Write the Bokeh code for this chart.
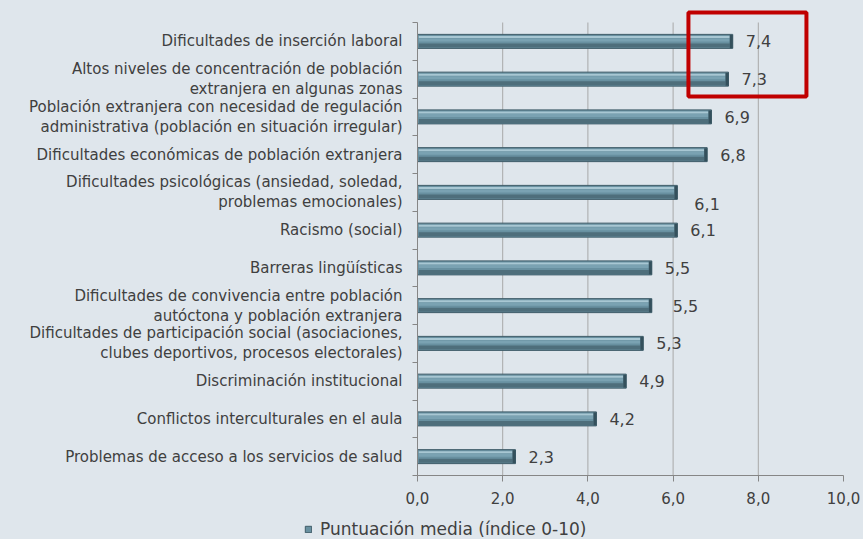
from bokeh.plotting import figure
from bokeh.models import (Range1d, FixedTicker, BoxAnnotation, Legend, LegendItem,
                          ColumnDataSource, GlobalInlineStyleSheet)
from bokeh.core.properties import value
from bokeh.embed import file_html
from bokeh.resources import INLINE

categories = [
    "Dificultades de inserción laboral",
    "Altos niveles de concentración de población\nextranjera en algunas zonas",
    "Población extranjera con necesidad de regulación\nadministrativa (población en situación irregular)",
    "Dificultades económicas de población extranjera",
    "Dificultades psicológicas (ansiedad, soledad,\nproblemas emocionales)",
    "Racismo (social)",
    "Barreras lingüísticas",
    "Dificultades de convivencia entre población\nautóctona y población extranjera",
    "Dificultades de participación social (asociaciones,\nclubes deportivos, procesos electorales)",
    "Discriminación institucional",
    "Conflictos interculturales en el aula",
    "Problemas de acceso a los servicios de salud",
]
scores = [7.4, 7.3, 6.9, 6.8, 6.1, 6.1, 5.5, 5.5, 5.3, 4.9, 4.2, 2.3]
x_ticks = [0, 2, 4, 6, 8, 10]
x_tick_labels = ["0,0", "2,0", "4,0", "6,0", "8,0", "10,0"]
grid_x = [2, 4, 6, 8]
series_name = "Puntuación media (índice 0-10)"

# label nudges (screen px) mimicking the original label placement
label_dx = [13, 13, 13, 13, 17, 13, 13, 21, 13, 13, 13, 13]
label_dy = [0, 0, 0, 0, 12, 0, 0, 0, 0, 0, 0, 0]

BG = "#dfe6ec"
FONT = "DejaVu Sans"
TXT = "#404040"
AX = "#868686"
n = len(categories)
ys = [n - 0.5 - i for i in range(n)]
W, H = 863, 539
X0, TOP, BOT = 417, 22, 475          # pixel positions of x=0, top and bottom of the bar area
py = 1 / ((BOT - TOP) / n)          # one pixel in y data units
px = 1 / 42.6                        # one pixel in x data units

src = ColumnDataSource(dict(
    y=ys, score=scores, cat=categories,
    lbl=[f"{v:.1f}".replace(".", ",") for v in scores],
    dx=label_dx, dy=label_dy,
    y_top=[y + 4.5 * py for y in ys],
    y_up=[y + 1.5 * py for y in ys],
    y_lo=[y - 4 * py for y in ys],
    cap=[s - 3 * px for s in scores],
))

p = figure(width=W, height=H,
           x_range=Range1d(-X0 * px, (W - X0) * px),
           y_range=Range1d(-(H - BOT) * py, n + TOP * py),
           output_backend="svg", toolbar_location=None,
           min_border_left=0, min_border_right=0, min_border_top=0, min_border_bottom=0)
p.background_fill_color = BG
p.border_fill_color = BG
p.outline_line_color = None
p.stylesheets = [GlobalInlineStyleSheet(css=f"body {{ background: {BG}; }}")]

# grid lines limited to the plotting band
p.segment(x0=grid_x, y0=[0] * len(grid_x), x1=grid_x, y1=[n] * len(grid_x),
          line_color="#a8a8a8", line_width=1)

main = p.hbar(y="y", left=0, right="score", height=14 * py, source=src,
              fill_color="#6890a0", line_color="#3f5c68", line_width=1)
p.hbar(y="y_up", left=0.03, right="cap", height=3 * py, source=src,
       fill_color="#7aa2b2", line_color=None)
p.hbar(y="y_top", left=0.03, right="cap", height=2 * py, source=src,
       fill_color="#a8c7d3", line_color=None)
p.hbar(y="y_lo", left=0.03, right="cap", height=4 * py, source=src,
       fill_color="#4e6e7b", line_color=None)
p.hbar(y="y", left="cap", right="score", height=13 * py, source=src,
       fill_color="#34505c", line_color=None)

p.text(x="score", y="y", text="lbl", source=src, x_offset="dx", y_offset="dy",
       text_font=value(FONT), text_font_size="16px", text_color=TXT,
       text_baseline="middle", text_align="left")

p.add_layout(BoxAnnotation(left=6.36, right=9.13, top=n + 10 * py, bottom=n - 74 * py,
                           fill_alpha=0, line_color="#c00000", line_alpha=1, line_width=4))

# axes
p.yaxis.fixed_location = 0
p.yaxis.bounds = (0, n)
p.yaxis.ticker = FixedTicker(ticks=ys, minor_ticks=list(range(n + 1)))
p.yaxis.major_label_overrides = {y: c for y, c in zip(ys, categories)}
p.yaxis.major_tick_out = 0
p.yaxis.major_tick_in = 0
p.yaxis.minor_tick_out = 5
p.yaxis.minor_tick_in = 0
p.yaxis.minor_tick_line_color = AX
p.yaxis.axis_line_color = AX
p.yaxis.major_label_text_font = FONT
p.yaxis.major_label_text_font_size = "15px"
p.yaxis.major_label_text_color = TXT
p.yaxis.major_label_text_line_height = 1.1
p.yaxis.major_label_text_align = "center"
p.yaxis.major_label_standoff = 10

p.xaxis.fixed_location = 0
p.xaxis.bounds = (0, 10)
p.xaxis.ticker = FixedTicker(ticks=x_ticks, minor_ticks=[])
p.xaxis.major_label_overrides = {t: l for t, l in zip(x_ticks, x_tick_labels)}
p.xaxis.major_tick_out = 6
p.xaxis.major_tick_in = 0
p.xaxis.major_tick_line_color = AX
p.xaxis.axis_line_color = AX
p.xaxis.major_label_text_font = FONT
p.xaxis.major_label_text_font_size = "15px"
p.xaxis.major_label_text_color = TXT
p.xaxis.major_label_standoff = 10

p.grid.visible = False

legend = Legend(items=[LegendItem(label=series_name, renderers=[main])],
                location=(304, 0), orientation="horizontal",
                background_fill_alpha=0, border_line_color=None,
                label_text_font=FONT, label_text_font_size="17px", label_text_color=TXT,
                glyph_width=8, glyph_height=8, padding=0, margin=0, label_standoff=8)
p.add_layout(legend, "center")

open("out.html", "w").write(file_html(p, INLINE))
